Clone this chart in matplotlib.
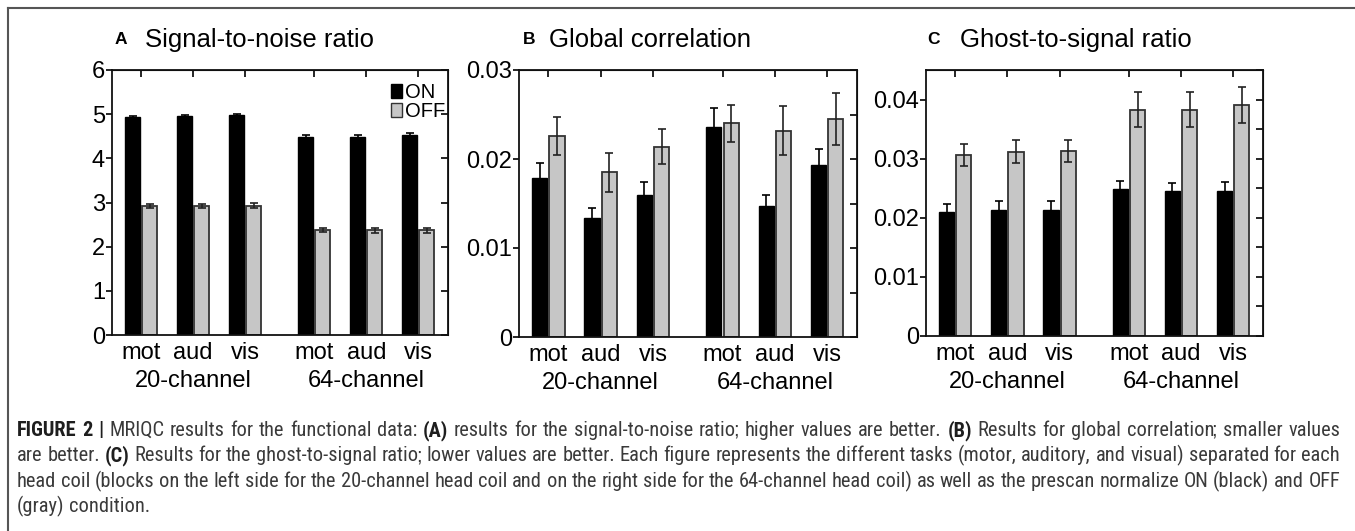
import matplotlib
matplotlib.use('Agg')
import matplotlib.pyplot as plt
from matplotlib import font_manager as fm
from matplotlib.patches import Patch
from matplotlib.lines import Line2D
import numpy as np

# ---------------- data ----------------
tasks = ['mot', 'aud', 'vis', 'mot', 'aud', 'vis']
coils = ['20-channel', '64-channel']

snr_on = [4.93, 4.96, 4.98, 4.48, 4.48, 4.52]
snr_on_err = [0.03, 0.03, 0.03, 0.05, 0.05, 0.05]
snr_off = [2.92, 2.92, 2.93, 2.38, 2.37, 2.37]
snr_off_err = [0.05, 0.05, 0.05, 0.05, 0.05, 0.05]

gcor_on = [0.0179, 0.0134, 0.0160, 0.0236, 0.0147, 0.0193]
gcor_on_err = [0.0016, 0.0011, 0.0014, 0.0021, 0.0013, 0.0018]
gcor_off = [0.0226, 0.0185, 0.0214, 0.0240, 0.0232, 0.0245]
gcor_off_err = [0.0021, 0.0022, 0.0020, 0.0021, 0.0028, 0.0029]

gsr_on = [0.0209, 0.0214, 0.0214, 0.0249, 0.0246, 0.0246]
gsr_on_err = [0.0015, 0.0015, 0.0015, 0.0014, 0.0013, 0.0015]
gsr_off = [0.0306, 0.0312, 0.0313, 0.0383, 0.0383, 0.0391]
gsr_off_err = [0.0019, 0.0020, 0.0019, 0.0030, 0.0029, 0.0030]

panel_letters = ['A', 'B', 'C']
panel_titles = ['Signal-to-noise ratio', 'Global correlation', 'Ghost-to-signal ratio']
legend_labels = ['ON', 'OFF']

caption_lines = [
    [("FIGURE 2 |", True), ("MRIQC results for the functional data:", False), ("(A)", True),
     ("results for the signal-to-noise ratio; higher values are better.", False), ("(B)", True),
     ("Results for global correlation; smaller values", False)],
    [("are better.", False), ("(C)", True),
     ("Results for the ghost-to-signal ratio; lower values are better. Each figure represents the different tasks (motor, auditory, and visual) separated for each", False)],
    [("head coil (blocks on the left side for the 20-channel head coil and on the right side for the 64-channel head coil) as well as the prescan normalize ON (black) and OFF", False)],
    [("(gray) condition.", False)],
]

# ---------------- fonts ----------------
def has_font(name):
    try:
        path = fm.findfont(fm.FontProperties(family=name), fallback_to_default=False)
        return bool(path)
    except Exception:
        return False

MAIN = 'Liberation Sans' if has_font('Liberation Sans') else 'DejaVu Sans'
NARROW = MAIN
for cand in ['Liberation Sans Narrow', 'Roboto Condensed', 'DejaVu Sans Condensed', 'Roboto']:
    if has_font(cand):
        NARROW = cand
        break
plt.rcParams['font.family'] = [MAIN, 'DejaVu Sans']

W, H = 1355, 531
fig = plt.figure(figsize=(W / 100, H / 100), dpi=100)

def px_rect(l, r, t, b):
    return [l / W, 1 - b / H, (r - l) / W, (b - t) / H]

# axes rectangles in pixels (left, right, top, bottom)
rects = [(112, 448, 70, 335), (519, 857, 70, 337), (926, 1263, 70, 336)]
ylims = [(0, 6), (0, 0.03), (0, 0.045)]
left_ticks = [np.arange(0, 6.01, 1), np.arange(0, 0.0301, 0.01), np.arange(0, 0.0401, 0.01)]
right_ticks = [np.arange(0, 6.01, 1), np.arange(0, 0.0301, 0.005), np.arange(0, 0.0451, 0.005)]
left_fmt = [lambda v: f"{v:g}", lambda v: ("0" if v == 0 else f"{v:.2f}"), lambda v: ("0" if v == 0 else f"{v:.2f}")]

datasets = [(snr_on, snr_on_err, snr_off, snr_off_err),
            (gcor_on, gcor_on_err, gcor_off, gcor_off_err),
            (gsr_on, gsr_on_err, gsr_off, gsr_off_err)]

# x positions: 3 tasks per coil, extra gap between coils
n = len(tasks)
xpos = np.array([i + (0.33 if i >= 3 else 0) for i in range(n)]) + 1
bw = 0.29
off = 0.165
GRAY = '#c6c6c6'
EDGE = '#333333'

title_px = [(115, 145), (523, 549), (927, 960)]

for k, (rect, yl, d) in enumerate(zip(rects, ylims, datasets)):
    ax = fig.add_axes(px_rect(*rect))
    on, on_e, offv, off_e = d
    ax.bar(xpos - off, on, width=bw, color='black', edgecolor='black', linewidth=1, zorder=2)
    ax.bar(xpos + off, offv, width=bw, color=GRAY, edgecolor=EDGE, linewidth=1.3, zorder=2)
    ax.errorbar(xpos - off, on, yerr=on_e, fmt='none', ecolor='black', elinewidth=1.2,
                capsize=3, capthick=1.2, zorder=3)
    ax.errorbar(xpos + off, offv, yerr=off_e, fmt='none', ecolor='#222222', elinewidth=1.2,
                capsize=3, capthick=1.2, zorder=3)
    ax.set_xlim(0.44, 6.9)
    ax.set_ylim(*yl)
    for sp in ax.spines.values():
        sp.set_linewidth(1.3)
        sp.set_color('#111111')
    # x ticks (labels bottom, marks only on top)
    ax.set_xticks(xpos)
    ax.set_xticklabels(tasks, fontsize=17)
    ax.tick_params(axis='x', bottom=False, length=0, pad=5)
    top = ax.secondary_xaxis('top')
    top.set_xticks(xpos)
    top.tick_params(direction='in', length=5, width=1.2, labeltop=False)
    # y ticks: left outward with labels, right inward
    lt = left_ticks[k]
    ax.set_yticks(lt)
    ax.set_yticklabels([left_fmt[k](v) for v in lt], fontsize=17)
    ax.tick_params(axis='y', direction='out', length=4, width=1.2, pad=1)
    rt = ax.secondary_yaxis('right')
    rt.set_yticks(right_ticks[k])
    rt.tick_params(direction='in', length=5, width=1.2, labelright=False)
    # coil group labels
    for g, cname in enumerate(coils):
        cx = xpos[3 * g + 1]
        ax.annotate(cname, xy=(cx, 0), xycoords=('data', 'axes fraction'),
                    xytext=(0, -46), textcoords='offset pixels', ha='center', va='center',
                    fontsize=17)
    # panel titles
    lx, tx = title_px[k]
    fig.text(lx / W, 1 - 40 / H, panel_letters[k], fontsize=12.5, fontweight='bold',
             ha='left', va='center')
    fig.text(tx / W, 1 - 40 / H, panel_titles[k], fontsize=18.5, ha='left', va='center')
    if k == 0:
        handles = [Patch(facecolor='black', edgecolor='black'),
                   Patch(facecolor=GRAY, edgecolor=EDGE)]
        ax.legend(handles, legend_labels, loc='upper right', bbox_to_anchor=(1.01, 0.975),
                  frameon=False, fontsize=14.5, handlelength=0.55, handleheight=0.7,
                  handletextpad=0.15, labelspacing=0.0, borderaxespad=0.1, borderpad=0.2)

# ---------------- outer frame ----------------
fig.add_artist(Line2D([8 / W, 1], [1 - 8 / H, 1 - 8 / H], transform=fig.transFigure,
                      color='#555555', lw=1.5))
fig.add_artist(Line2D([8 / W, 8 / W], [1 - 8 / H, 0], transform=fig.transFigure,
                      color='#555555', lw=1.5))

# ---------------- caption ----------------
renderer = fig.canvas.get_renderer()
CAP_X0, CAP_X1 = 17, 1340
baselines = [436, 461, 487, 512]
CAP_COLOR = '#3a3a3a'
SEMI_KERN = -2.5  # pull the semicolon back against its word

def tokens(line):
    out = []
    for txt, bold in line:
        for w in txt.split(' '):
            if w:
                out.append((w, bold))
    return out

def pieces(word):
    # the semicolon is drawn in the main family (the narrow face renders it badly)
    if word.endswith(';'):
        return [(word[:-1], NARROW), (';', MAIN)]
    return [(word, NARROW)]

def measure_piece(s, fam, bold, fs):
    t = fig.text(0, 0, s, fontsize=fs, family=fam, fontweight='bold' if bold else 'normal')
    w = t.get_window_extent(renderer).width
    t.remove()
    return w

def measure(word, bold, fs):
    ps = pieces(word)
    return sum(measure_piece(s, fam, bold, fs) for s, fam in ps) + SEMI_KERN * (len(ps) - 1)

# choose font size so the widest of the first three lines fits naturally
fs0 = 10.0
sp0 = measure_piece('x x', NARROW, False, fs0) - measure_piece('xx', NARROW, False, fs0)
nat = []
for line in caption_lines[:3]:
    toks = tokens(line)
    nat.append(sum(measure(w, b, fs0) for w, b in toks) + sp0 * (len(toks) - 1))
cap_fs = fs0 * (CAP_X1 - CAP_X0) / max(nat) * 0.995

space = measure_piece('x x', NARROW, False, cap_fs) - measure_piece('xx', NARROW, False, cap_fs)
for li, line in enumerate(caption_lines):
    toks = tokens(line)
    widths = [measure(w, b, cap_fs) for w, b in toks]
    gap = space
    if li < 3 and len(toks) > 1:
        gap = (CAP_X1 - CAP_X0 - sum(widths)) / (len(toks) - 1)
    x = CAP_X0
    for (w, b), wd in zip(toks, widths):
        px = x
        for pi, (s, fam) in enumerate(pieces(w)):
            if pi > 0:
                px += SEMI_KERN
            fig.text(px / W, 1 - baselines[li] / H, s, fontsize=cap_fs, family=fam,
                     fontweight='bold' if b else 'normal',
                     color='#1e1e1e' if b else CAP_COLOR, ha='left', va='baseline')
            px += measure_piece(s, fam, b, cap_fs)
        x += wd + gap

fig.savefig('out.png', dpi=100)
